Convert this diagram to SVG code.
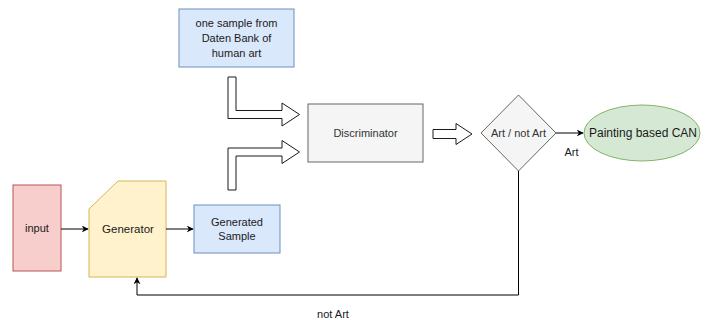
<svg xmlns="http://www.w3.org/2000/svg" width="706" height="320" viewBox="0 0 706 320">
<defs>
<style>
text{font-family:"Liberation Sans",Arial,sans-serif;font-size:11px;text-anchor:middle;dominant-baseline:central;fill:#1a1a1a}
.g text{fill:#333333}
.big{font-size:12px}
.hollow{fill:#ffffff;stroke:#1a1a1a;stroke-width:1}
.edge{fill:none;stroke:#000000;stroke-width:1}
</style>
<marker id="ah" viewBox="0 0 10 10" refX="9" refY="5" markerWidth="7" markerHeight="7" markerUnits="userSpaceOnUse" orient="auto">
<path d="M0,0 L10,5 L0,10 L3,5 Z" fill="#000000"/>
</marker>
</defs>
<rect width="706" height="320" fill="#ffffff"/>
<g id="sample">
<rect x="179" y="9" width="115" height="58" fill="#dae8fc" stroke="#6c8ebf"/>
<text x="236.5" y="23">one sample from</text>
<text x="236.5" y="38">Daten Bank of</text>
<text x="236.5" y="53">human art</text>
</g>
<g id="discriminator" class="g">
<rect x="308" y="104" width="115" height="58" fill="#f5f5f5" stroke="#666666"/>
<text x="365.5" y="133">Discriminator</text>
</g>
<g id="decision" class="g">
<path d="M518.5,95 L556,133 L518.5,171 L481,133 Z" fill="#f5f5f5" stroke="#666666"/>
<text x="518.5" y="133">Art / not Art</text>
</g>
<g id="painting">
<ellipse cx="642" cy="133" rx="58" ry="28" fill="#d5e8d4" stroke="#82b366"/>
<text class="big" x="643" y="133">Painting based CAN</text>
</g>
<g id="input">
<rect x="13" y="185" width="48" height="86" fill="#f8cecc" stroke="#b85450"/>
<text x="37" y="228">input</text>
</g>
<g id="generator">
<path d="M118,181 L166,181 L166,277 L89,277 L89,209 Z" fill="#fff2cc" stroke="#d6b656"/>
<text x="128" y="229" style="font-size:11.5px">Generator</text>
</g>
<g id="generated">
<rect x="194" y="205" width="86" height="48" fill="#dae8fc" stroke="#6c8ebf"/>
<text x="237" y="222">Generated</text>
<text x="237" y="236">Sample</text>
</g>
<g id="connectors">
<path class="hollow" d="M228,77 L228,118.5 L282,118.5 L282,126 L299.5,114.5 L282,103 L282,110.5 L236,110.5 L236,77 Z"/>
<path class="hollow" d="M228,190 L228,148 L282,148 L282,140.5 L299.5,152 L282,163.5 L282,156 L236,156 L236,190 Z"/>
<path class="hollow" d="M433,129.5 L456,129.5 L456,123.5 L472,134 L456,144.5 L456,138.5 L433,138.5 Z"/>
<path class="edge" d="M61,229 L88,229" marker-end="url(#ah)"/>
<path class="edge" d="M166,229 L193,229" marker-end="url(#ah)"/>
<path class="edge" d="M556,133 L583,133" marker-end="url(#ah)"/>
<path class="edge" d="M518.5,171 L518.5,295 L137,295 L137,278" marker-end="url(#ah)"/>
<text x="571.5" y="152">Art</text>
<text x="333" y="314">not Art</text>
</g>
</svg>
